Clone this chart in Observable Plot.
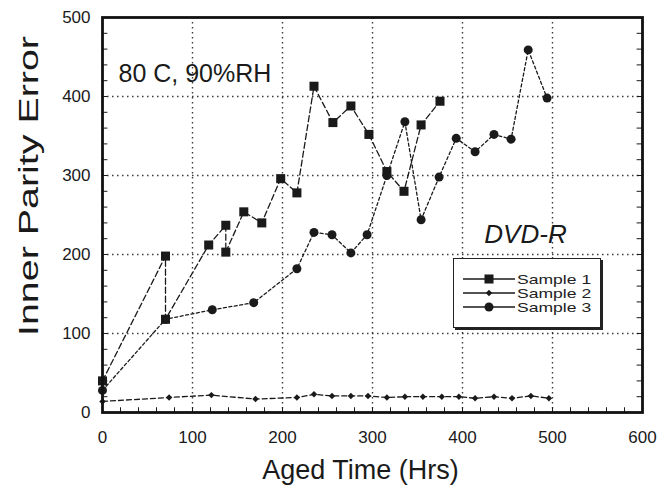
<!DOCTYPE html>
<html>
<head>
<meta charset="utf-8">
<script src="https://cdn.jsdelivr.net/npm/d3@7"></script>
<script src="https://cdn.jsdelivr.net/npm/@observablehq/plot@0.6"></script>
<style>
  body { margin: 0; background: #fff; }
  #wrap { position: relative; width: 672px; height: 491px; font-family: "Liberation Sans", Arial, sans-serif; color: #222; }
  #legend { position: absolute; left: 453px; top: 258px; width: 148px; height: 70px; box-sizing: border-box;
            border: 1.5px solid #222; box-shadow: 2px 2px 0 #222; background: #fff; padding: 13px 0 0 9px; }
  .row { display: flex; align-items: center; height: 14px; font-size: 13.5px; line-height: 13px; }
  .row svg { display: block; margin-right: 2px; }
  .row span { display: inline-block; transform: scaleX(1.3); transform-origin: left center; }
</style>
</head>
<body>
<div id="wrap"></div>
<script>
// ---- data ----
const sample1Hours  = [0, 70, 70, 118, 137, 137, 157, 177, 198, 216, 235, 256, 276, 296, 316, 335, 354, 375];
const sample1Errors = [40, 198, 118, 212, 237, 203, 254, 240, 296, 278, 413, 367, 388, 352, 305, 280, 364, 394];

const sample2Hours  = [0, 74, 121, 170, 216, 235, 255, 276, 295, 316, 336, 356, 377, 396, 414, 435, 455, 476, 496];
const sample2Errors = [14, 19, 22, 17, 19, 23, 21, 21, 21, 19, 20, 20, 20, 20, 18, 20, 18, 21, 18];

const sample3Hours  = [0, 70, 122, 168, 216, 235, 255, 276, 294, 316, 336, 354, 374, 393, 414, 435, 454, 473, 494];
const sample3Errors = [28, 118, 130, 139, 182, 228, 225, 202, 225, 300, 368, 244, 298, 347, 330, 352, 346, 459, 398];

const seriesNames = ["Sample 1", "Sample 2", "Sample 3"];
const xTicks = [0, 100, 200, 300, 400, 500, 600];
const yTicks = [0, 100, 200, 300, 400, 500];
const xGrid = [100, 200, 300, 400, 500];
const yGrid = [100, 200, 300, 400];
const xMinor = d3.range(20, 600, 20);
const yMinor = d3.range(20, 500, 20);
const xTitle = ["Aged Time (Hrs)"];
const yTitle = ["Inner Parity Error"];
const condition = ["80 C, 90%RH"];
const product = ["DVD-R"];

// ---- build tables ----
const toRows = (name, hs, vs) => hs.map((h, i) => ({series: name, hours: h, errors: vs[i]}));
const s1 = toRows(seriesNames[0], sample1Hours, sample1Errors);
const s2 = toRows(seriesNames[1], sample2Hours, sample2Errors);
const s3 = toRows(seriesNames[2], sample3Hours, sample3Errors);

const styles = [
  {rows: s1, symbol: "square", r: 5.1, dash: "6,3"},
  {rows: s2, symbol: "diamond2", r: 2.9, dash: "5,3"},
  {rows: s3, symbol: "circle", r: 4.5, dash: "3,2.5"}
];

const ink = "#1a1a1a";
const marks = [
  Plot.gridX(xGrid, {stroke: ink, strokeOpacity: 0.85, strokeDasharray: "1.5,3.5", strokeWidth: 1.4}),
  Plot.gridY(yGrid, {stroke: ink, strokeOpacity: 0.85, strokeDasharray: "1.5,3.5", strokeWidth: 1.4}),
  Plot.ruleX(xMinor, {y1: 0, y2: 6, stroke: ink, strokeWidth: 1}),
  Plot.ruleY(yMinor, {x1: 0, x2: 6, stroke: ink, strokeWidth: 1}),
  Plot.ruleY(yMinor, {x1: 594, x2: 600, stroke: ink, strokeWidth: 1})
];
for (const s of styles) {
  marks.push(Plot.line(s.rows, {x: "hours", y: "errors", stroke: ink, strokeWidth: 1.3, strokeDasharray: s.dash}));
}
for (const s of styles) {
  marks.push(Plot.dot(s.rows, {x: "hours", y: "errors", symbol: s.symbol, r: s.r, fill: ink, stroke: "none"}));
}
marks.push(
  Plot.frame({stroke: "#111", strokeWidth: 2.8}),
  Plot.axisX(xTicks, {tickSize: 0, tickPadding: 18, fontSize: 17, label: null}),
  Plot.axisY(yTicks, {tickSize: 0, tickPadding: 12, fontSize: 17, label: null}),
  Plot.text(xTitle, {frameAnchor: "bottom", dx: -12, dy: 58, lineAnchor: "middle", textAnchor: "middle", fontSize: 27, fill: ink}),
  Plot.text(yTitle, {frameAnchor: "left", dx: -73, dy: -29, lineAnchor: "middle", textAnchor: "middle", rotate: -90, fontSize: 27, fill: ink}),
  Plot.text(condition, {frameAnchor: "top-left", dx: 16, dy: 56, lineAnchor: "middle", textAnchor: "start", fontSize: 25, fill: ink}),
  Plot.text(product, {frameAnchor: "top-left", dx: 423, dy: 217, lineAnchor: "middle", textAnchor: "middle", fontSize: 26, fontStyle: "italic", fill: ink})
);

const chart = Plot.plot({
  width: 672,
  height: 491,
  marginLeft: 102,
  marginRight: 30,
  marginTop: 17,
  marginBottom: 79,
  x: {domain: [0, 600]},
  y: {domain: [0, 500]},
  style: {fontFamily: "'Liberation Sans', Arial, sans-serif", background: "#fff", color: ink},
  marks
});

// the reference's y title is drawn elongated; stretch it to the same length
d3.select(chart).selectAll("text")
  .filter(function() { return this.textContent === yTitle[0]; })
  .attr("textLength", 300)
  .attr("lengthAdjust", "spacingAndGlyphs");

const wrap = document.getElementById("wrap");
wrap.appendChild(chart);

// ---- legend (overlay inside the plot area) ----
const legend = document.createElement("div");
legend.id = "legend";
const symbolPaths = {square: d3.symbolSquare, diamond2: d3.symbolDiamond2, circle: d3.symbolCircle};
styles.forEach((s, i) => {
  const row = document.createElement("div");
  row.className = "row";
  const sym = d3.symbol(symbolPaths[s.symbol], Math.PI * s.r * s.r)();
  row.innerHTML = `<svg width="52" height="14"><line x1="0" x2="52" y1="7" y2="7" stroke="${ink}" stroke-width="1.6"/>` +
    `<path d="${sym}" transform="translate(26,7)" fill="${ink}"/></svg><span>${seriesNames[i]}</span>`;
  legend.appendChild(row);
});
wrap.appendChild(legend);
</script>
</body>
</html>
